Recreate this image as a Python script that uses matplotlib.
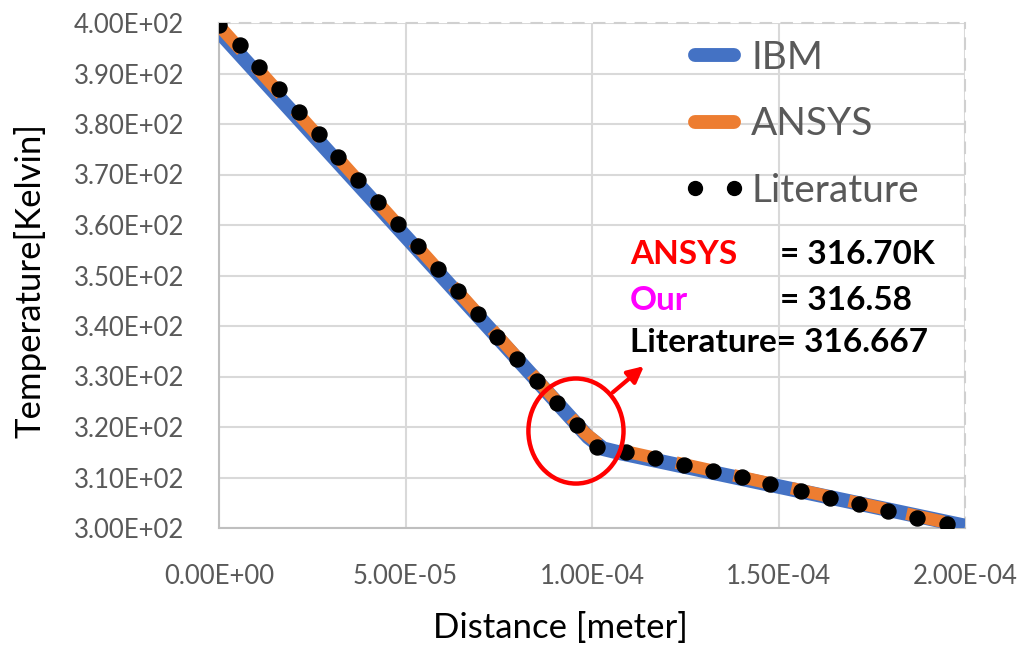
import matplotlib
matplotlib.use("Agg")
import matplotlib.pyplot as plt
from matplotlib.lines import Line2D
from matplotlib.patches import Ellipse
from matplotlib.ticker import FuncFormatter, MultipleLocator

plt.rcParams['font.family'] = ['Lato', 'DejaVu Sans']

# ---- data ----
ibm_x = [0.0, 9.9e-5, 1.03e-4, 1.08e-4, 2.0e-4]
ibm_y = [398.3, 318.0, 315.7, 314.8, 300.4]

ansys_x = [0.0, 9.8e-5, 1.02e-4, 1.07e-4, 1.955e-4]
ansys_y = [399.5, 318.9, 316.5, 315.5, 301.0]

lit_x = [0.0, 5.6e-6, 10.7e-6, 16.1e-6, 21.4e-6, 26.8e-6, 31.9e-6, 37.3e-6,
         42.6e-6, 48.0e-6, 53.4e-6, 58.7e-6, 64.1e-6, 69.4e-6, 74.5e-6, 79.9e-6,
         85.3e-6, 90.6e-6, 96.0e-6, 101.3e-6, 109.1e-6, 116.9e-6, 124.7e-6,
         132.4e-6, 140.2e-6, 147.6e-6, 156.0e-6, 163.8e-6, 171.6e-6, 179.4e-6,
         187.1e-6, 195.2e-6]
lit_y = [399.6, 395.6, 391.3, 386.9, 382.4, 378.0, 373.5, 368.9, 364.6, 360.2,
         355.8, 351.3, 346.9, 342.4, 337.8, 333.5, 329.1, 324.8, 320.4, 316.0,
         315.0, 313.9, 312.5, 311.3, 310.1, 308.7, 307.3, 305.9, 304.8, 303.4,
         302.0, 300.8]

series_labels = ["IBM", "ANSYS", "Literature"]
note_names = ["ANSYS", "Our", "Literature"]
note_values = ["= 316.70K", "= 316.58", "= 316.667"]
xlabel = "Distance [meter]"
ylabel = "Temperature[Kelvin]"

BLUE = "#4472C4"
ORANGE = "#ED7D31"
GRAY = "#595959"
GRID = "#D9D9D9"

W, H = 1031, 646
L, R, T, B = 219, 965, 23, 528

fig = plt.figure(figsize=(W/100, H/100), dpi=100)
ax = fig.add_axes([L/W, 1-B/H, (R-L)/W, (B-T)/H])

def ax_x(px):
    return (px - L) / (R - L)

def ax_y(py):
    return 1 - (py - T) / (B - T)

ax.plot(ibm_x, ibm_y, color=BLUE, lw=10.5, solid_capstyle='butt', solid_joinstyle='round', zorder=3)
ax.plot(ansys_x, ansys_y, color=ORANGE, lw=9.0, dash_capstyle='butt', dash_joinstyle='round',
        linestyle=(0.32, (3.04, 1.68)), zorder=4)
ax.plot(lit_x, lit_y, 'o', color='black', ms=10.8, zorder=5)

ax.set_xlim(0, 2e-4)
ax.set_ylim(300, 400)
ax.xaxis.set_major_locator(MultipleLocator(5e-5))
ax.yaxis.set_major_locator(MultipleLocator(10))

def sci(v, pos):
    return "%.2E" % v
ax.xaxis.set_major_formatter(FuncFormatter(sci))
ax.yaxis.set_major_formatter(FuncFormatter(sci))

ax.grid(True, color=GRID, lw=1.5, zorder=0)
ax.set_axisbelow(True)
ax.tick_params(axis='both', length=0, labelsize=18.5, labelcolor=GRAY)
ax.tick_params(axis='x', pad=26)
ax.tick_params(axis='y', pad=25)

for s in ['left', 'bottom']:
    ax.spines[s].set_color('#BFBFBF')
    ax.spines[s].set_linewidth(1.5)
for s in ['top', 'right']:
    ax.spines[s].set_color('#D0D0D0')
    ax.spines[s].set_linewidth(1.5)
    ax.spines[s].set_linestyle((0, (5, 5)))

ax.set_xlabel(xlabel, fontsize=25, color='black')
ax.xaxis.label.set_va('center')
ax.xaxis.set_label_coords(ax_x(560), ax_y(628))
ax.set_ylabel(ylabel, fontsize=25, color='black')
ax.yaxis.label.set_va('center')
ax.yaxis.set_label_coords(ax_x(30), ax_y(280))

# legend
handles = [
    Line2D([], [], color=BLUE, lw=10, solid_capstyle='round'),
    Line2D([], [], color=ORANGE, lw=10, solid_capstyle='round'),
    Line2D([], [], ls='none', marker='o', color='black', ms=10),
]
leg = ax.legend(handles, series_labels, loc='upper left',
                bbox_to_anchor=(ax_x(683), ax_y(40)),
                borderaxespad=0, borderpad=0,
                frameon=False, fontsize=28, labelcolor=GRAY, handlelength=1.6,
                numpoints=2, labelspacing=0.78, handletextpad=0.15)

# annotation text
colors = ["#FF0000", "#FF00FF", "black"]
rows = [255, 300, 343]
for i in range(2):
    ax.text(ax_x(630), ax_y(rows[i]), note_names[i], transform=ax.transAxes, color=colors[i],
            fontsize=24, fontweight='bold', va='center', ha='left', zorder=6)
    ax.text(ax_x(780), ax_y(rows[i]), note_values[i], transform=ax.transAxes, color='black',
            fontsize=24, fontweight='bold', va='center', ha='left', zorder=6)
ax.text(ax_x(630), ax_y(rows[2]), note_names[2] + note_values[2], transform=ax.transAxes,
        color='black', fontsize=24, fontweight='bold', va='center', ha='left', zorder=6)

# red circle and arrow
ell = Ellipse((9.57e-5, 319.2), width=2.55e-5, height=20.8, fill=False,
              edgecolor='#FF0000', lw=3.2, zorder=6)
ax.add_patch(ell)
ax.annotate("", xy=(11.45e-5, 332.4), xytext=(10.5e-5, 326.5),
            arrowprops=dict(arrowstyle='-|>', color='#FF0000', lw=3, mutation_scale=24),
            zorder=6)

fig.savefig("out.png", dpi=100)
